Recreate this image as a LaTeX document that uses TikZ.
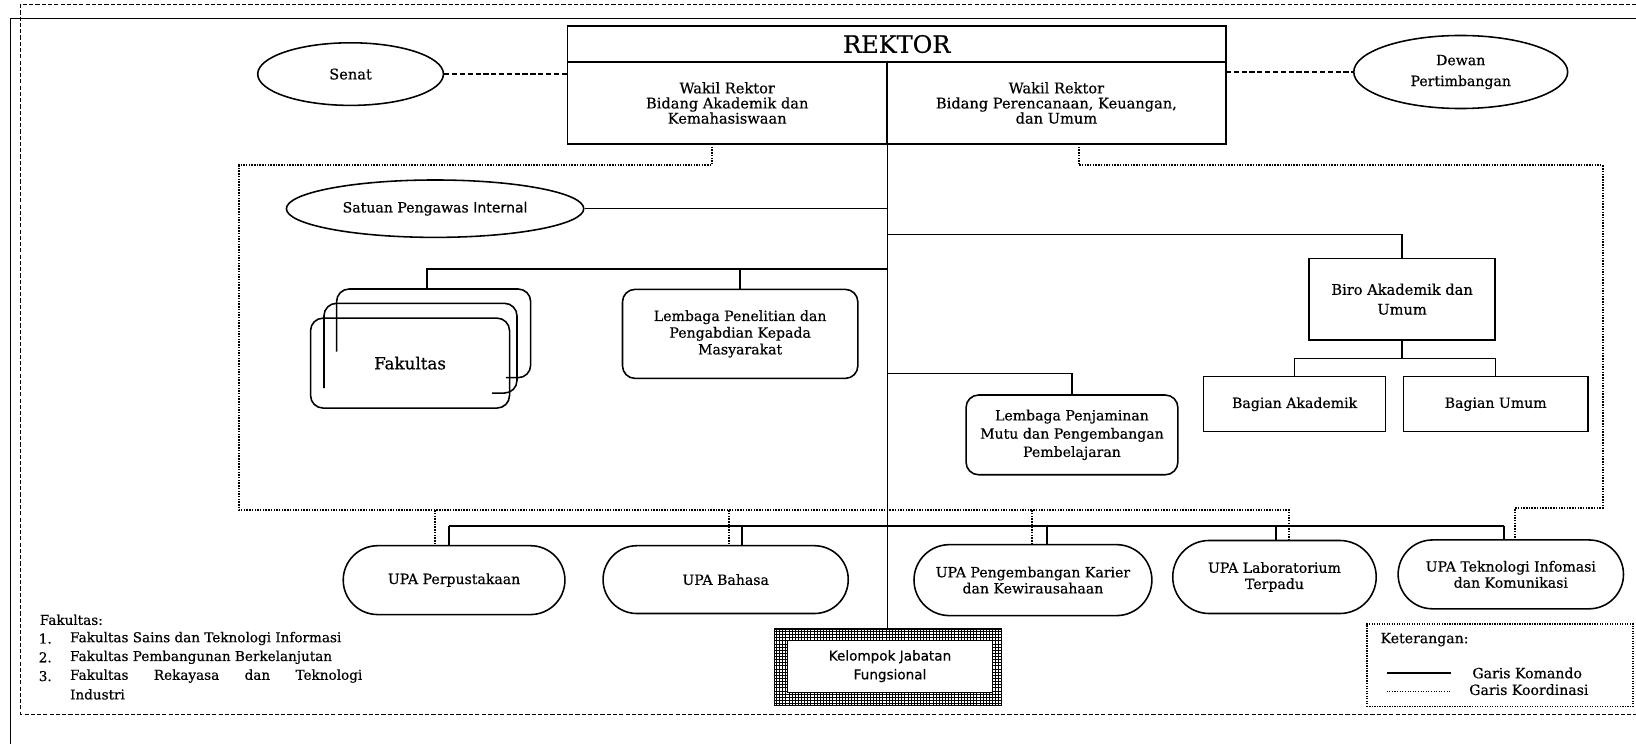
\documentclass[tikz,border=0pt]{standalone}
\usepackage{fontspec}
\setmainfont{DejaVu Serif}[FakeBold=0.5]
\newfontfamily\sansf{DejaVu Sans}[FakeBold=0.5]
\usetikzlibrary{shapes.geometric,shapes.misc,patterns}
\begin{document}
\begin{tikzpicture}[x=1pt,y=-1pt,
  cmd/.style={line width=1.5pt},
  crd/.style={line width=2pt, dash pattern=on 1.4pt off 1.2pt},
  lnk/.style={line width=2.2pt, dash pattern=on 5pt off 2.5pt},
  frd/.style={line width=1.1pt, dash pattern=on 4pt off 2pt},
  box/.style={draw, line width=1.5pt, inner sep=0pt, align=center, font=\fontsize{13.5}{16}\selectfont},
  rbox/.style={box, rounded corners=12pt},
  upa/.style={box, rounded rectangle},
  oval/.style={box, ellipse},
  lbl/.style={inner sep=0pt, anchor=west, font=\fontsize{13}{15}\selectfont}
]
\useasboundingbox (0,0) rectangle (1568,713);
% page frame
\draw[frd] (1568,4) -- (20,4) -- (20,684.5) -- (1568,684.5);
\draw[line width=1.3pt] (1568,18) -- (10,18) -- (10,713);

% top
\node[box, minimum width=631pt, minimum height=34.4pt, font=\fontsize{23}{26}\selectfont] (rek) at (859.5,42.2) {REKTOR};
\node[box, minimum width=306pt, minimum height=78.6pt, font=\fontsize{14}{14.5}\selectfont] (wr1) at (697,98.7) {Wakil Rektor\\Bidang Akademik dan\\Kemahasiswaan};
\node[box, minimum width=325pt, minimum height=78.6pt, font=\fontsize{14}{14.5}\selectfont] (wr2) at (1012.5,98.7) {Wakil Rektor\\Bidang Perencanaan, Keuangan,\\dan Umum};
\node[oval, minimum width=178pt, minimum height=60pt, font=\fontsize{14}{16}\selectfont] (senat) at (336,71) {Senat};
\node[oval, minimum width=205pt, minimum height=70pt, font=\fontsize{13.5}{20}\selectfont] (dewan) at (1400,69) {Dewan\\Pertimbangan};
\node[oval, minimum width=285pt, minimum height=55pt] (sat) at (417,200) {Satuan Pengawas {\sansf Internal}};

% middle
\node[inner sep=0pt, minimum width=186pt, minimum height=85pt] (fakb) at (415.6,319.5) {};
\draw[cmd, rounded corners=12pt] (322.6,337) -- (322.6,277) -- (508.6,277) -- (508.6,362) -- (484.8,362);
\draw[cmd, rounded corners=12pt] (310.5,372) -- (310.5,290.7) -- (495.5,290.7) -- (495.5,376.7) -- (471.7,376.7);
\node[rbox, minimum width=190.7pt, minimum height=86.2pt, font=\fontsize{16}{18}\selectfont] (fak) at (393,348) {Fakultas};
\node[rbox, minimum width=225.6pt, minimum height=85.3pt] (lppm) at (709.4,320) {Lembaga Penelitian dan\\Pengabdian Kepada\\Masyarakat};
\node[box, minimum width=178.4pt, minimum height=78.3pt, font=\fontsize{14}{19}\selectfont] (biro) at (1343.8,286.8) {Biro Akademik dan\\Umum};
\node[box, minimum width=174.5pt, minimum height=52.7pt] (bagA) at (1240.8,387.4) {Bagian Akademik};
\node[box, minimum width=177pt, minimum height=52.7pt] (bagU) at (1433.5,387.4) {Bagian Umum};
\node[rbox, minimum width=203pt, minimum height=76.4pt, font=\fontsize{13.5}{17.5}\selectfont] (lpmpp) at (1027.4,416.8) {Lembaga Penjaminan\\Mutu dan Pengembangan\\Pembelajaran};

% UPA row
\node[upa, minimum width=212.5pt, minimum height=66pt] (perp) at (435.2,556) {UPA Perpustakaan};
\node[upa, minimum width=235pt, minimum height=65pt] (bhs) at (695.5,555.5) {UPA Bahasa};
\node[upa, minimum width=228pt, minimum height=68pt, font=\fontsize{13.5}{15.5}\selectfont] (kar) at (990,556) {UPA Pengembangan Karier\\dan Kewirausahaan};
\node[upa, minimum width=195pt, minimum height=70pt, font=\fontsize{13.5}{15.5}\selectfont] (lab) at (1221.5,553) {UPA Laboratorium\\Terpadu};
\node[upa, minimum width=216pt, minimum height=66pt, font=\fontsize{13.5}{15.5}\selectfont] (tik) at (1448,550.5) {UPA Teknologi Infomasi\\dan Komunikasi};

% Kelompok Jabatan Fungsional
\node[draw, line width=1.3pt, pattern=grid, pattern color=black, minimum width=218pt, minimum height=73pt, inner sep=0pt] (kjfo) at (851,639.5) {};
\node[draw, line width=1.1pt, fill=white, minimum width=196pt, minimum height=50pt, inner sep=0pt, align=center, font=\sansf\fontsize{13}{18}\selectfont] (kjf) at (853,638.5) {Kelompok Jabatan\\Fungsional};

% command lines
\draw[cmd] (wr1.south east) -- (wr1.south east |- kjfo.north);
\draw[cmd] (sat.east) -- (sat.east -| wr1.south east);
\coordinate (fj) at (850,258);
\coordinate (fd) at (409.5,258);
\draw[cmd] (fj) -- (fd) -- (fd |- fakb.north);
\draw[cmd] (lppm.north) -- (lppm.north |- fj);
\coordinate (bj) at (850,224.6);
\draw[cmd] (bj) -| (biro.north);
\coordinate (bgj) at (1343.8,343.4);
\draw[cmd] (biro.south) -- (bgj);
\draw[cmd] (bagA.north) |- (bgj) -| (bagU.north);
\coordinate (lj) at (850,357.8);
\draw[cmd] (lj) -| (lpmpp.north);
\coordinate (ubL) at (430.6,504);
\coordinate (ubR) at (1441.5,504);
\draw[cmd] (ubL) -- (ubR);
\foreach \n/\x in {perp/430.6, bhs/711, kar/1003.5, lab/1223, tik/1441.5}{
  \coordinate (t) at (\x,504);
  \draw[cmd] (t) -- (t |- \n.north);
}

% coordination lines
\draw[lnk] (senat.east) -- (senat.east -| wr1.west);
\coordinate (dw) at (1175,69);
\draw[lnk] (dw) -- (dewan.west);
\coordinate (dl0) at (682,138);
\coordinate (dlc) at (1235.6,489);
\draw[crd] (dl0) -- (682,158.5) -- (229,158.5) -- (229,489) -- (dlc) -- (dlc |- lab.north);
\foreach \n/\x in {perp/417, bhs/699, kar/988.7}{
  \coordinate (t) at (\x,489);
  \draw[crd] (t) -- (t |- \n.north);
}
\coordinate (dr0) at (1034,138);
\coordinate (drc) at (1452,487);
\draw[crd] (dr0) -- (1034,158.5) -- (1536,158.5) -- (1536,487) -- (drc) -- (drc |- tik.north);

% faculty list
\node[lbl] (fl0) at (38,594) {Fakultas:};
\node[lbl] (fn1) at (37,612) {1.};
\node[lbl] (ft1) at (67,612) {Fakultas Sains dan Teknologi Informasi};
\node[lbl] (fn2) at (37,630) {2.};
\node[lbl] (ft2) at (67,630) {Fakultas Pembangunan Berkelanjutan};
\node[lbl] (fn3) at (37,648) {3.};
\node[lbl] (ft3) at (67,648) {\hbox to 280pt{Fakultas\hfill Rekayasa\hfill dan\hfill Teknologi}};
\node[lbl] (ft3b) at (67,665.5) {Industri};

% legend
\node[draw, line width=1.3pt, dash pattern=on 1.2pt off 1.2pt, minimum width=255pt, minimum height=79pt, inner sep=0pt] (leg) at (1437.5,637.5) {};
\node[lbl, font=\fontsize{13.5}{15}\selectfont] (k0) at (1323,613) {Keterangan:};
\node[lbl, font=\fontsize{13.5}{15}\selectfont] (k1) at (1411,645) {Garis Komando};
\node[lbl, font=\fontsize{13.5}{15}\selectfont] (k2) at (1408,661) {Garis Koordinasi};
\coordinate (s1) at (1329,645);
\coordinate (s1e) at (1391,645);
\coordinate (s2) at (1329,663);
\coordinate (s2e) at (1391,663);
\draw[cmd] (s1) -- (s1e);
\draw[line width=0.8pt, dash pattern=on 1pt off 1.5pt] (s2) -- (s2e);
\end{tikzpicture}
\end{document}
